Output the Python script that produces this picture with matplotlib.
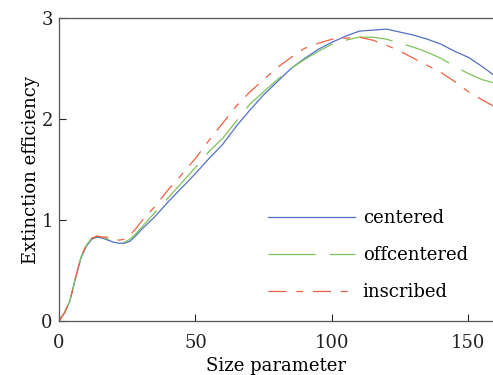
import numpy as np
import matplotlib
matplotlib.use("Agg")
import matplotlib.pyplot as plt

# data
size_param = [0, 2, 4, 6, 8, 10, 12, 14, 16, 18, 20, 22, 24, 26, 28, 30, 35, 40, 45, 50,
              55, 60, 65, 70, 75, 80, 85, 90, 95, 100, 105, 110, 115, 120, 125, 130, 135,
              140, 145, 150, 155, 159]
centered = [0, 0.08, 0.20, 0.42, 0.62, 0.74, 0.81, 0.83, 0.82, 0.80, 0.78, 0.77, 0.77, 0.79,
            0.84, 0.90, 1.03, 1.18, 1.32, 1.46, 1.61, 1.75, 1.93, 2.09, 2.24, 2.37, 2.50,
            2.60, 2.69, 2.76, 2.82, 2.87, 2.88, 2.89, 2.86, 2.83, 2.79, 2.74, 2.67, 2.61,
            2.52, 2.44]
offcentered = [0, 0.08, 0.20, 0.42, 0.63, 0.75, 0.82, 0.84, 0.83, 0.81, 0.79, 0.78, 0.78,
               0.81, 0.86, 0.92, 1.07, 1.22, 1.37, 1.52, 1.68, 1.81, 1.98, 2.15, 2.27, 2.39,
               2.50, 2.59, 2.67, 2.74, 2.78, 2.81, 2.81, 2.79, 2.75, 2.71, 2.66, 2.60, 2.52,
               2.45, 2.39, 2.36]
inscribed = [0, 0.08, 0.20, 0.42, 0.63, 0.75, 0.82, 0.84, 0.83, 0.83, 0.82, 0.80, 0.81,
             0.85, 0.91, 0.98, 1.13, 1.30, 1.45, 1.61, 1.79, 1.96, 2.13, 2.27, 2.39, 2.51,
             2.61, 2.70, 2.75, 2.79, 2.80, 2.81, 2.78, 2.73, 2.67, 2.60, 2.53, 2.46, 2.37,
             2.27, 2.19, 2.13]

plt.rcParams["font.family"] = ["DejaVu Serif"]
plt.rcParams["lines.scale_dashes"] = False

fig = plt.figure(figsize=(4.93, 3.75), dpi=100)
ax = fig.add_axes([0.1197, 0.144, 0.8803, 0.808])

lw = 0.9
ax.plot(size_param, centered, color="#5470c8", lw=lw, label="centered")
ax.plot(size_param, offcentered, color="#7cc35a", lw=lw, dashes=(34, 10), label="offcentered")
ax.plot(size_param, inscribed, color="#f06040", lw=lw, dashes=(13, 7, 5, 7), label="inscribed")

ax.set_xlim(0, 159)
ax.set_ylim(0, 3)
ax.set_xticks([0, 50, 100, 150])
ax.set_yticks([0, 1, 2, 3])
ax.tick_params(direction="in", length=5, width=0.8, labelsize=13, colors="#222222")
ax.tick_params(axis="x", pad=9)
ax.tick_params(axis="y", pad=4.5)
for s in ["left", "bottom", "top"]:
    ax.spines[s].set_color("#555555")
    ax.spines[s].set_linewidth(0.9)
ax.spines["right"].set_visible(False)

ax.set_xlabel("Size parameter", fontsize=13, labelpad=4)
ax.set_ylabel("Extinction efficiency", fontsize=13, labelpad=1)

ax.legend(loc="upper left", bbox_to_anchor=(0.444, 0.422), frameon=False, fontsize=13,
          handlelength=4.8, handletextpad=0.45, labelspacing=1.05)

fig.savefig("out.png", dpi=100)
